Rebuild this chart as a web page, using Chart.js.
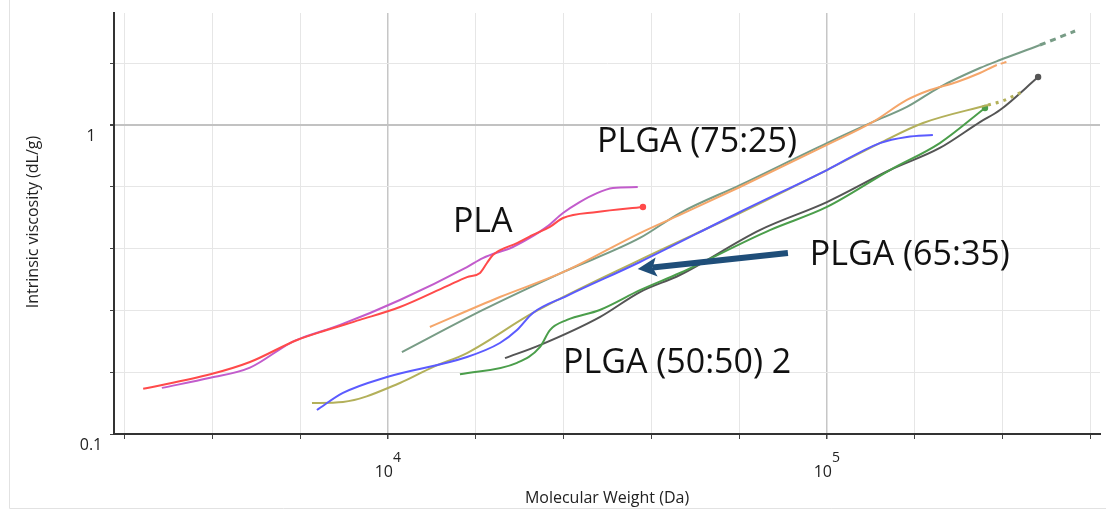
<!DOCTYPE html>
<html>
<head>
<meta charset="utf-8">
<script src="https://cdn.jsdelivr.net/npm/chart.js@4.4.0/dist/chart.umd.min.js"></script>
<style>
  html, body { margin: 0; padding: 0; background: #fff; }
  #wrap { width: 1106px; height: 509px; }
</style>
</head>
<body>
<div id="wrap"><canvas id="myChart" width="1106" height="509"></canvas></div>
<script>
// Molecular weight (Da) vs intrinsic viscosity (dL/g)
const plaRedMw = [2770, 3940, 4850, 6210, 7260, 8630, 10650, 13620, 15140, 16210, 16810, 17340, 19680, 21390, 23390, 25050, 29940, 38100];
const plaRedIv = [0.140, 0.156, 0.171, 0.2015, 0.217, 0.234, 0.2576, 0.301, 0.322, 0.332, 0.3575, 0.3796, 0.415, 0.441, 0.468, 0.500, 0.523, 0.543];

const plaMagMw = [3055, 3940, 4850, 5990, 6370, 7780, 10650, 15140, 16450, 19260, 21040, 23000, 25050, 27340, 29940, 32540, 37070];
const plaMagIv = [0.141, 0.152, 0.164, 0.197, 0.2046, 0.2254, 0.2715, 0.347, 0.371, 0.403, 0.431, 0.468, 0.519, 0.563, 0.602, 0.625, 0.630];

const orangeMw = [12460, 17990, 25050, 37500, 46240, 63360, 100000, 127300, 152100, 171700, 197700, 223100, 243800, 257000];
const orangeIv = [0.222, 0.2775, 0.334, 0.447, 0.512, 0.630, 0.862, 1.023, 1.205, 1.298, 1.378, 1.473, 1.564, 1.600];

const sageMw = [10760, 16460, 25050, 37500, 46240, 63360, 100000, 127300, 152100, 180800, 223100, 247800, 305600, 367500];
const sageIv = [0.184, 0.252, 0.334, 0.431, 0.519, 0.639, 0.874, 1.023, 1.144, 1.327, 1.529, 1.623, 1.815, 2.015];

const blueMw = [6890, 7900, 9950, 15140, 17990, 19680, 21390, 25580, 37500, 63360, 100000, 132000, 152100, 174300];
const blueIv = [0.1196, 0.1358, 0.1529, 0.1775, 0.197, 0.217, 0.2464, 0.280, 0.3603, 0.523, 0.715, 0.874, 0.915, 0.928];

const oliveMw = [6714, 7900, 10650, 12660, 15140, 21390, 37500, 63360, 100000, 132000, 165500, 232700, 251200, 277800];
const oliveIv = [0.126, 0.127, 0.1462, 0.1647, 0.1828, 0.2464, 0.366, 0.519, 0.715, 0.874, 1.015, 1.161, 1.196, 1.279];

const greenMw = [14590, 19680, 22190, 23390, 25580, 30380, 37500, 46240, 74130, 100000, 139200, 180800, 229100];
const greenIv = [0.156, 0.170, 0.191, 0.217, 0.234, 0.252, 0.292, 0.332, 0.457, 0.543, 0.715, 0.874, 1.135];

const greyMw = [18480, 22190, 30380, 37500, 46240, 70310, 100000, 139200, 180800, 223100, 247800, 302700];
const greyIv = [0.176, 0.194, 0.239, 0.288, 0.327, 0.457, 0.563, 0.715, 0.843, 1.022, 1.118, 1.430];

// axis ticks (grid every 0.2 decade, labels only on decades)
const xGridTicks = [2512, 3981, 6310, 10000, 15849, 25119, 39811, 63096, 100000, 158489, 251189, 398107];
const yGridTicks = [0.1, 0.1585, 0.2512, 0.3981, 0.631, 1, 1.585];
const xLabelValues = [10000, 100000];
const xLabelExps = ['4', '5'];
const yLabelValues = [0.1, 1];
const yLabelTexts = ['0.1', '1'];

// text annotations and arrow, anchored in data units
const noteTexts = ['PLA', 'PLGA (75:25)', 'PLGA (65:35)', 'PLGA (50:50) 2'];
const noteMw = [14060, 29940, 91400, 25050];
const noteIv = [0.451, 0.818, 0.352, 0.1575];
const arrowMw = [81500, 37070];
const arrowIv = [0.385, 0.342];

const FONT = "'Open Sans', sans-serif";

const series = [
    { mw: plaRedMw, iv: plaRedIv, color: '#ff4a4a', dot: true },
    { mw: plaMagMw, iv: plaMagIv, color: '#c25ccc' },
    { mw: orangeMw, iv: orangeIv, color: '#f5a66a', dashFrom: 12, dash: [6, 4], dashOffset: 6 },
    { mw: sageMw, iv: sageIv, color: '#789c86', dashFrom: 12, dash: [6, 5], endWidth: 3 },
    { mw: blueMw, iv: blueIv, color: '#5b5bff' },
    { mw: oliveMw, iv: oliveIv, color: '#b3b05a', dashFrom: 11, dash: [3, 5], endWidth: 3 },
    { mw: greenMw, iv: greenIv, color: '#4b9e4b', dot: true },
    { mw: greyMw, iv: greyIv, color: '#555555', dot: true }
];

const datasets = series.map(s => {
    const last = s.mw.length - 1;
    const inDash = ctx => s.dashFrom !== undefined && ctx.p0DataIndex >= s.dashFrom;
    return {
        data: s.mw.map((m, i) => ({ x: m, y: s.iv[i] })),
        borderColor: s.color,
        backgroundColor: s.color,
        borderWidth: 2,
        cubicInterpolationMode: 'monotone',
        pointRadius: ctx => (s.dot && ctx.dataIndex === last) ? 2.2 : 0,
        pointHoverRadius: 0,
        segment: {
            borderDash: ctx => inDash(ctx) ? s.dash : undefined,
            borderDashOffset: ctx => inDash(ctx) ? (s.dashOffset || 0) : undefined,
            borderWidth: ctx => (inDash(ctx) && s.endWidth) ? s.endWidth : undefined
        }
    };
});

const isMajorX = v => v === 10000 || v === 100000;

const labelsPlugin = {
    id: 'labels',
    beforeDraw(chart) {
        const c = chart.ctx;
        c.save();
        c.fillStyle = '#ffffff';
        c.fillRect(0, 0, chart.width, chart.height);
        c.strokeStyle = '#e2e2e2';
        c.lineWidth = 1;
        c.beginPath();
        c.moveTo(9.5, 0);
        c.lineTo(9.5, 508.5);
        c.lineTo(chart.width, 508.5);
        c.stroke();
        c.restore();
    },
    afterDatasetsDraw(chart) {
        const c = chart.ctx;
        const xs = chart.scales.x, ys = chart.scales.y;
        c.save();

        // annotation texts
        c.fillStyle = '#111111';
        c.font = '34px ' + FONT;
        c.textAlign = 'left';
        c.textBaseline = 'alphabetic';
        noteTexts.forEach((t, i) => {
            c.fillText(t, xs.getPixelForValue(noteMw[i]), ys.getPixelForValue(noteIv[i]));
        });

        // arrow
        const x0 = xs.getPixelForValue(arrowMw[0]), y0 = ys.getPixelForValue(arrowIv[0]);
        const x1 = xs.getPixelForValue(arrowMw[1]), y1 = ys.getPixelForValue(arrowIv[1]);
        const ang = Math.atan2(y1 - y0, x1 - x0);
        const headLen = 19, headHalf = 9.5;
        const bx = x1 - headLen * Math.cos(ang), by = y1 - headLen * Math.sin(ang);
        c.strokeStyle = '#1f4e79';
        c.fillStyle = '#1f4e79';
        c.lineWidth = 6;
        c.beginPath();
        c.moveTo(x0, y0);
        c.lineTo(bx + 4 * Math.cos(ang), by + 4 * Math.sin(ang));
        c.stroke();
        c.beginPath();
        c.moveTo(x1, y1);
        c.lineTo(bx - headHalf * Math.sin(ang), by + headHalf * Math.cos(ang));
        c.lineTo(bx + 4 * Math.cos(ang), by + 4 * Math.sin(ang));
        c.lineTo(bx + headHalf * Math.sin(ang), by - headHalf * Math.cos(ang));
        c.closePath();
        c.fill();

        // tick labels
        c.fillStyle = '#222222';
        c.font = '16px ' + FONT;
        c.textAlign = 'center';
        yLabelValues.forEach((v, i) => {
            c.fillText(yLabelTexts[i], 91, ys.getPixelForValue(v) + 16);
        });
        xLabelValues.forEach((v, i) => {
            const px = xs.getPixelForValue(v);
            c.font = '16px ' + FONT;
            c.textAlign = 'right';
            c.fillText('10', px + 5, 477);
            c.font = '14px ' + FONT;
            c.textAlign = 'left';
            c.fillText(xLabelExps[i], px + 5, 462);
        });

        // axis titles
        c.font = '16px ' + FONT;
        c.textAlign = 'center';
        c.fillText('Molecular Weight (Da)', (chart.chartArea.left + chart.chartArea.right) / 2, 503);
        c.translate(33, 222);
        c.rotate(-Math.PI / 2);
        c.textBaseline = 'middle';
        c.fillText('Intrinsic viscosity (dL/g)', 0, 0);
        c.restore();
    }
};

const config = {
    type: 'line',
    data: { datasets: datasets },
    options: {
        responsive: false,
        animation: false,
        layout: { padding: { top: 13, right: 6, left: 0, bottom: 0 } },
        plugins: { legend: { display: false }, tooltip: { enabled: false } },
        scales: {
            x: {
                type: 'logarithmic',
                min: 2377,
                max: 418800,
                afterBuildTicks: s => { s.ticks = xGridTicks.map(v => ({ value: v })); },
                afterFit: s => { s.height = 75; },
                ticks: { display: false },
                grid: {
                    color: ctx => isMajorX(ctx.tick.value) ? '#c6c6c6' : '#e6e6e6',
                    lineWidth: ctx => isMajorX(ctx.tick.value) ? 1.5 : 1,
                    tickColor: '#444444',
                    tickLength: 5
                },
                border: { color: '#333333', width: 2 }
            },
            y: {
                type: 'logarithmic',
                min: 0.1,
                max: 2.304,
                afterBuildTicks: s => { s.ticks = yGridTicks.map(v => ({ value: v })); },
                afterFit: s => { s.width = 114; },
                ticks: { display: false },
                grid: {
                    color: ctx => ctx.tick.value === 1 ? '#c2c2c2' : '#e6e6e6',
                    lineWidth: ctx => ctx.tick.value === 1 ? 2 : 1,
                    tickColor: '#444444',
                    tickLength: 4
                },
                border: { color: '#333333', width: 2 }
            }
        }
    },
    plugins: [labelsPlugin]
};

const myChart = new Chart(document.getElementById('myChart').getContext('2d'), config);
</script>
</body>
</html>
